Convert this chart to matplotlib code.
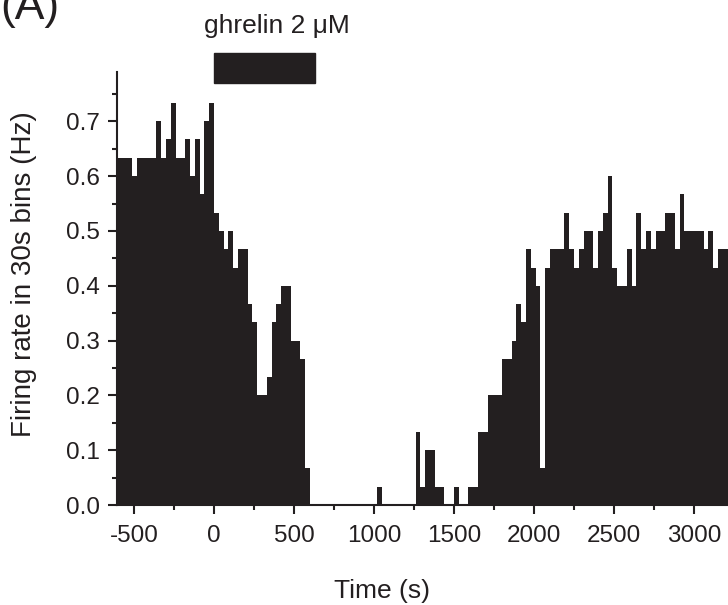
import matplotlib.pyplot as plt
import numpy as np
from matplotlib.ticker import MultipleLocator

plt.rcParams['font.family'] = ['Liberation Sans', 'DejaVu Sans']
plt.rcParams['axes.unicode_minus'] = False

# firing rate per 30 s bin (Hz), first bin starts at -600 s
bin_start = -600
bin_width = 30
rates = [
    0.633, 0.633, 0.633, 0.6, 0.633, 0.633, 0.633, 0.633, 0.7, 0.633,
    0.667, 0.733, 0.633, 0.633, 0.667, 0.6, 0.667, 0.567, 0.7, 0.733,
    0.533, 0.5, 0.467, 0.5, 0.433, 0.467, 0.467, 0.367, 0.333, 0.2,
    0.2, 0.233, 0.333, 0.367, 0.4, 0.4, 0.3, 0.3, 0.267, 0.067,
    0, 0, 0, 0, 0, 0, 0, 0, 0, 0,
    0, 0, 0, 0, 0.033, 0, 0, 0, 0, 0,
    0, 0, 0.133, 0.033, 0.1, 0.1, 0.033, 0.033, 0, 0,
    0.033, 0, 0, 0.033, 0.033, 0.133, 0.133, 0.2, 0.2, 0.2,
    0.267, 0.267, 0.3, 0.367, 0.333, 0.467, 0.433, 0.4, 0.067, 0.433,
    0.467, 0.467, 0.467, 0.533, 0.467, 0.433, 0.467, 0.5, 0.5, 0.433,
    0.5, 0.533, 0.6, 0.433, 0.4, 0.4, 0.467, 0.4, 0.533, 0.467,
    0.5, 0.467, 0.5, 0.5, 0.533, 0.533, 0.467, 0.567, 0.5, 0.5,
    0.5, 0.5, 0.467, 0.5, 0.433, 0.467, 0.467, 0.467,
]
drug_label = 'ghrelin 2 μM'
drug_on, drug_off = 0, 630

edges = bin_start + bin_width * np.arange(len(rates) + 1)
dark = '#231f20'
W, H = 728, 605

fig = plt.figure(figsize=(W / 100, H / 100), dpi=100)
ax = fig.add_axes([117.3 / W, 100 / H, (W - 117.3) / W, 433 / H])

ax.stairs(rates, edges, fill=True, color=dark, linewidth=0)

ax.set_xlim(-604, 3212)
ax.set_ylim(0, 0.79)
ax.xaxis.set_major_locator(MultipleLocator(500))
ax.xaxis.set_minor_locator(MultipleLocator(250))
ax.yaxis.set_major_locator(MultipleLocator(0.1))
ax.yaxis.set_minor_locator(MultipleLocator(0.05))
ax.yaxis.set_major_formatter(lambda v, p: f'{v:.1f}')

for s in ['top', 'right']:
    ax.spines[s].set_visible(False)
for s in ['left', 'bottom']:
    ax.spines[s].set_linewidth(1.5)
    ax.spines[s].set_color(dark)

ax.tick_params(which='major', length=6.5, width=1.5, color=dark,
               labelsize=17.5, labelcolor=dark)
ax.tick_params(axis='x', which='major', pad=8)
ax.tick_params(axis='y', which='major', pad=6)
ax.tick_params(which='minor', length=3.5, width=1.5, color=dark)

fig.text(382 / W, 1 - 591 / H, 'Time (s)', fontsize=19, ha='center', va='center', color=dark)
fig.text(24 / W, 1 - 274 / H, 'Firing rate in 30s bins (Hz)', fontsize=20,
         rotation=90, ha='center', va='center', color=dark)

# drug application bar above the plot
trans = ax.get_xaxis_transform()
ax.add_patch(plt.Rectangle((drug_on, 0.975), drug_off - drug_on, 0.069,
                           transform=trans, color=dark, clip_on=False))
ax.text(392, 1.09, drug_label, transform=trans, ha='center', va='baseline',
        fontsize=19, color=dark)

fig.text(0.0, 1 - 19 / H, '(A)', fontsize=32, va='baseline', ha='left', color=dark)

fig.savefig('out.png', dpi=100)
